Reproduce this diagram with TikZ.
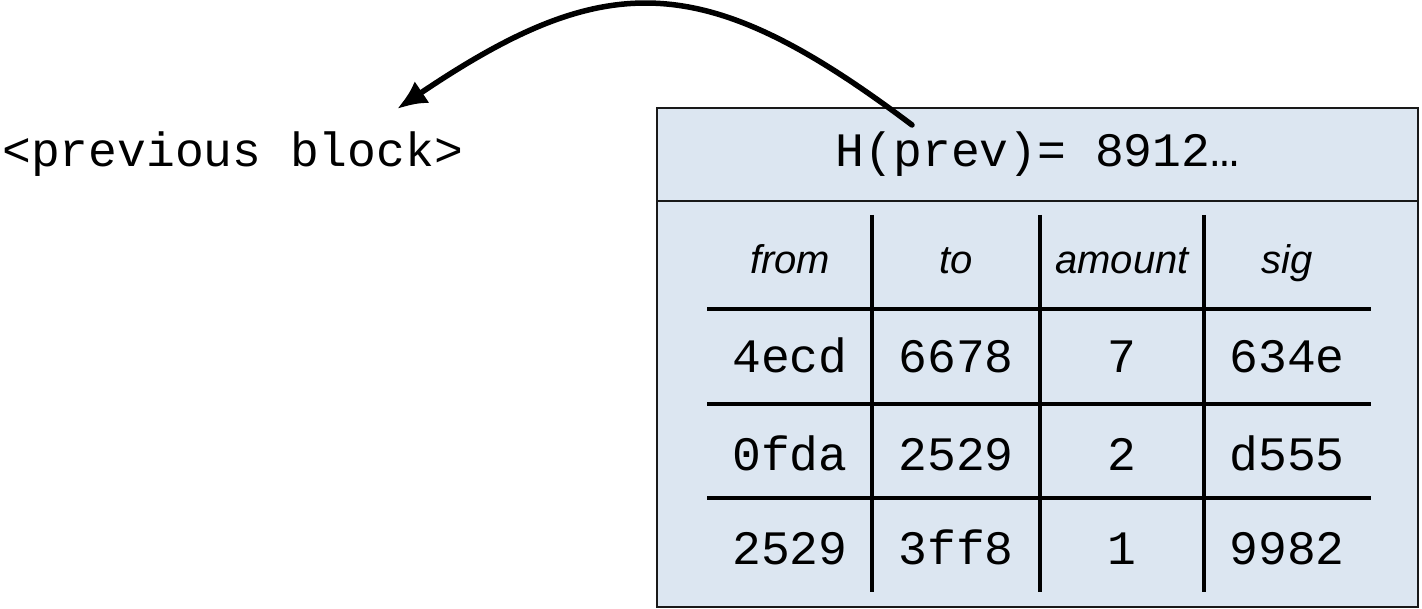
\documentclass[tikz,border=0pt]{standalone}
\usepackage{fontspec}
\setmonofont{Liberation Mono}
\setsansfont{Liberation Sans}
\usetikzlibrary{arrows.meta}

\begin{document}
\begin{tikzpicture}
			[x=1pt,y=-1pt,
			%Styles
			hash text/.style={font=\fontsize{48}{56}\selectfont\ttfamily,inner sep=0pt,anchor=base},
			head text/.style={font=\fontsize{40}{48}\selectfont\sffamily\itshape,inner sep=0pt,anchor=base},
			block/.style={draw=black!90,line width=2pt,fill=blockfill},
			grid line/.style={line width=4pt},
			pointer/.style={line width=5.5pt,line cap=round,-{Latex[length=30pt,width=26pt]}}
			]
			
			%Colors
			\definecolor{blockfill}{HTML}{DCE6F1}	%block background
			
			\useasboundingbox (0,0) rectangle (1422,609);
			
			%The block
			\draw[block] (657,108) rectangle (1418,607);
			\draw[black!90,line width=1.8pt] (657,201) -- (1418,201);
			
			\node[hash text,anchor=base west] (P) at (2,167) {<previous block>};
			\node[hash text] (H) at (1037.5,167) {H(prev)= 8912…};
			
			%Table head
			\node[head text] (from) at (790,274) {from};
			\node[head text] (to) at (956,274) {to};
			\node[head text] (amount) at (1122,274) {amount};
			\node[head text] (sig) at (1287,274) {sig};
			
			%Transactions
			\node[hash text] (F1) at (790,373) {4ecd};
			\node[hash text] (T1) at (956,373) {6678};
			\node[hash text] (A1) at (1122,373) {7};
			\node[hash text] (S1) at (1287,373) {634e};
			\node[hash text] (F2) at (790,470) {0fda};
			\node[hash text] (T2) at (956,470) {2529};
			\node[hash text] (A2) at (1122,470) {2};
			\node[hash text] (S2) at (1287,470) {d555};
			\node[hash text] (F3) at (790,564) {2529};
			\node[hash text] (T3) at (956,564) {3ff8};
			\node[hash text] (A3) at (1122,564) {1};
			\node[hash text] (S3) at (1287,564) {9982};
			
			\draw[grid line] (707,309) -- (1371,309)
				(707,404) -- (1371,404)
				(707,498) -- (1371,498);
			\draw[grid line] (872,215) -- (872,592)
				(1040,215) -- (1040,592)
				(1204,215) -- (1204,592);
			
			%Hash pointer
			\coordinate (hashptr) at (912,125);
			\coordinate (prevptr) at (397,109);
			\draw[pointer] (hashptr) .. controls (704,-32) and (606,-32) .. (prevptr);
		\end{tikzpicture}
\end{document}
